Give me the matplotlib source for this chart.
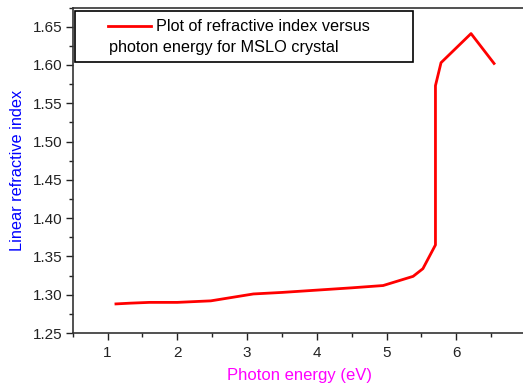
import matplotlib.pyplot as plt
from matplotlib.patches import Rectangle
from matplotlib.ticker import MultipleLocator

# photon energy (eV) and linear refractive index
energy = [1.12, 1.33, 1.60, 2.00, 2.48, 3.09, 3.50, 4.00, 4.50, 4.95, 5.38, 5.52, 5.70, 5.70, 5.78, 6.21, 6.54]
n_index = [1.288, 1.289, 1.290, 1.290, 1.292, 1.301, 1.303, 1.306, 1.309, 1.312, 1.324, 1.334, 1.365, 1.573, 1.603, 1.641, 1.602]
legend_lines = ['Plot of refractive index versus', 'photon energy for MSLO crystal']

plt.rcParams['font.family'] = ['Liberation Sans', 'DejaVu Sans']

fig = plt.figure(figsize=(5.23, 3.87), dpi=100)
ax = fig.add_axes([0.139, 0.1395, 0.867, 0.841])

ax.plot(energy, n_index, color='red', lw=2)

ax.set_xlim(0.5, 7.0)
ax.set_ylim(1.25, 1.675)
ax.xaxis.set_major_locator(MultipleLocator(1))
ax.xaxis.set_minor_locator(MultipleLocator(0.5))
ax.yaxis.set_major_locator(MultipleLocator(0.05))
ax.yaxis.set_minor_locator(MultipleLocator(0.025))
ax.yaxis.set_major_formatter(plt.FormatStrFormatter('%.2f'))
ax.set_xticks([1, 2, 3, 4, 5, 6])

for s in ax.spines.values():
    s.set_color('#333333')
    s.set_linewidth(1.2)

ax.tick_params(which='major', direction='out', length=5, width=1, labelsize=11, colors='#222222', pad=2)
ax.tick_params(axis='x', which='major', pad=4)
ax.tick_params(which='minor', direction='out', length=3, width=1, colors='#222222')

ax.set_xlabel('Photon energy (eV)', color='#ff00ff', fontsize=12)
ax.set_ylabel('Linear refractive index', color='#0000ff', fontsize=11.7)
ax.xaxis.set_label_coords(0.5, -0.132)
ax.xaxis.label.set_va('center')
ax.yaxis.set_label_coords(-0.121, 0.5)
ax.yaxis.label.set_va('center')

# Origin-style legend: swatch on the first line, text wrapping back under it
ax.add_patch(Rectangle((0.005, 0.8326), 0.746, 0.1564, transform=ax.transAxes,
                       facecolor='white', edgecolor='black', lw=1.2, zorder=3))
ax.plot([0.078, 0.1727], [0.944, 0.944], transform=ax.transAxes, color='red', lw=2, zorder=4)
ax.text(0.1838, 0.943, legend_lines[0], transform=ax.transAxes, fontsize=11.7,
        va='center', ha='left', zorder=4)
ax.text(0.080, 0.877, legend_lines[1], transform=ax.transAxes, fontsize=11.7,
        va='center', ha='left', zorder=4)

fig.savefig('out.png', dpi=100)
